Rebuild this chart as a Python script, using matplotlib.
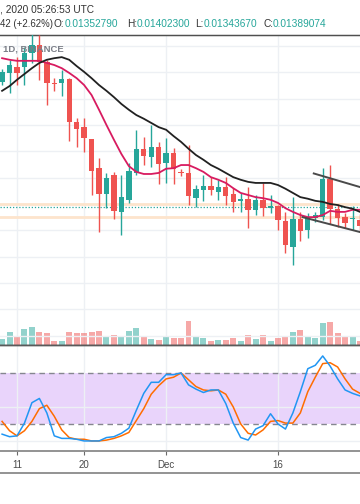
import numpy as np
import pandas as pd
import matplotlib
matplotlib.use("Agg")
import matplotlib.pyplot as plt
from matplotlib.lines import Line2D

plt.rcParams['font.family'] = ['Liberation Sans', 'DejaVu Sans']

# Daily candles Nov 9 - Dec 27 2020, prices in 1e-5 BTC
dates = pd.date_range("2020-11-09", periods=49, freq="D")
opens = [1627, 1644, 1655, 1655, 1682, 1697, 1665, 1625, 1625, 1633,
         1551, 1541, 1519, 1463, 1414, 1450, 1380, 1403, 1454, 1500,
         1484, 1503, 1473, 1492, 1456, 1454, 1406, 1422, 1429, 1418,
         1427, 1414, 1401, 1405, 1384, 1403, 1387, 1391, 1363, 1313,
         1367, 1346, 1368, 1370, 1443, 1386, 1370, 1367, 1365]
highs = [1652, 1669, 1674, 1693, 1718, 1716, 1669, 1634, 1650, 1634,
         1558, 1558, 1519, 1482, 1454, 1456, 1450, 1473, 1536, 1522,
         1545, 1513, 1520, 1501, 1462, 1507, 1431, 1450, 1446, 1441,
         1446, 1425, 1416, 1427, 1412, 1435, 1412, 1393, 1380, 1408,
         1380, 1378, 1380, 1463, 1469, 1395, 1378, 1391, 1376]
lows = [1621, 1606, 1621, 1621, 1663, 1631, 1583, 1610, 1600, 1515,
        1503, 1494, 1412, 1342, 1387, 1367, 1336, 1397, 1450, 1469,
        1465, 1433, 1435, 1433, 1448, 1393, 1389, 1401, 1412, 1403,
        1393, 1380, 1380, 1349, 1374, 1372, 1378, 1346, 1302, 1279,
        1325, 1330, 1361, 1365, 1357, 1351, 1349, 1346, 1342]
closes = [1646, 1659, 1644, 1682, 1697, 1665, 1625, 1623, 1633, 1551,
          1538, 1520, 1458, 1414, 1444, 1382, 1408, 1458, 1500, 1486,
          1503, 1471, 1492, 1462, 1453, 1410, 1424, 1429, 1422, 1427,
          1410, 1399, 1405, 1384, 1403, 1387, 1391, 1365, 1317, 1367,
          1344, 1370, 1374, 1443, 1386, 1368, 1359, 1368, 1353]
volume = [6, 13, 8, 16, 18, 13, 12, 4, 4, 13, 12, 12, 13, 14, 8, 10, 9,
          14, 17, 8, 6, 5, 8, 7, 7, 24, 9, 7, 4, 5, 5, 7, 4, 10, 6, 10,
          4, 7, 8, 13, 15, 9, 7, 22, 23, 12, 8, 8, 4]

# Moving averages
ma_fast = [1672, 1669, 1667, 1667, 1667, 1667, 1663, 1659, 1653, 1644,
           1634, 1621, 1602, 1574, 1545, 1517, 1490, 1467, 1456, 1452,
           1452, 1454, 1462, 1463, 1469, 1469, 1463, 1456, 1446, 1441,
           1435, 1425, 1416, 1412, 1408, 1406, 1403, 1397, 1387, 1380,
           1374, 1370, 1370, 1374, 1382, 1380, 1380, 1384, 1384]
ma_slow = [1610, 1619, 1631, 1642, 1653, 1663, 1669, 1672, 1674, 1669,
           1657, 1646, 1634, 1621, 1610, 1598, 1585, 1574, 1564, 1557,
           1549, 1541, 1536, 1524, 1513, 1500, 1488, 1479, 1469, 1462,
           1454, 1446, 1441, 1437, 1435, 1435, 1435, 1431, 1424, 1416,
           1408, 1405, 1401, 1399, 1395, 1393, 1389, 1386, 1380]

# Stochastic RSI %K and %D
stoch_k = [8, 5, 6, 21, 45, 50, 33, 6, 3, 3, 2, 0, 0, 0, 4, 5, 9, 15, 36, 56,
           69, 69, 78, 78, 80, 66, 61, 57, 60, 60, 44, 21, 4, 1, 14, 18, 32,
           20, 14, 33, 58, 85, 89, 100, 88, 73, 60, 56, 53]
stoch_d = [23, 12, 6, 12, 23, 38, 42, 29, 13, 4, 2, 2, 0, 0, 1, 3, 6, 10, 24,
           38, 55, 65, 73, 75, 80, 72, 64, 60, 59, 60, 55, 40, 20, 9, 7, 13,
           23, 24, 21, 21, 33, 58, 75, 91, 92, 87, 73, 61, 56]

# Drawn lines: channel and horizontal levels
upper_x = [41.8, 49]
upper_y = [1453, 1423]
lower_x = [40.3, 49]
lower_y = [1370, 1338]
levels = [1395, 1370]
last_price = 1389.074

tick_idx = [2, 11, 22, 37]
tick_lbl = ['11', '20', 'Dec', '16']

UP = '#26a69a'
DN = '#ef5350'
GRID = '#edf0f4'

o = np.array(opens) * 1e-5
h = np.array(highs) * 1e-5
l = np.array(lows) * 1e-5
c = np.array(closes) * 1e-5
x = np.arange(len(o))
up = c >= o
col = np.where(up, UP, DN)

fig = plt.figure(figsize=(3.6, 5.04), dpi=100)
fig.patch.set_facecolor('white')
ax_v = fig.add_axes([0, 0.3155, 1, 0.6151])
ax = ax_v.twinx()
st = fig.add_axes([0, 0.1052, 1, 0.2103])

# Volume behind price
ax_v.bar(x, volume, width=0.8, color=col, alpha=0.5, zorder=2)
ax_v.set_ylim(0, 310)
ax_v.set_xlim(-0.28, 48.0)
for t in tick_idx:
    ax_v.axvline(t, color=GRID, lw=1, zorder=0)
ax.set_zorder(ax_v.get_zorder() + 1)
ax.patch.set_visible(False)

# Grid of the price pane
for p in np.arange(1145, 1700, 50):
    ax.axhline(p * 1e-5, color=GRID, lw=1, zorder=0)

# Levels
for lv in levels:
    ax.axhline(lv * 1e-5, color='#fde4cc', lw=2, zorder=1)
ax.axhline(last_price * 1e-5, color=UP, lw=0.9, ls=(0, (1, 1.5)), zorder=1)

# Candles
ax.vlines(x, l, h, colors=col, lw=1, zorder=3)
body = np.maximum(np.abs(c - o), 1.5e-5)
ax.bar(x, body, bottom=np.minimum(o, c), width=0.72, color=col, zorder=4)

# Moving averages
ax.plot(x, np.array(ma_fast) * 1e-5, color='#d81b60', lw=1.3, zorder=5)
ax.plot(x, np.array(ma_slow) * 1e-5, color='#212121', lw=1.3, zorder=5)

# Channel
ax.plot(upper_x, np.array(upper_y) * 1e-5, color='#4a4a4a', lw=1.4, zorder=6)
ax.plot(lower_x, np.array(lower_y) * 1e-5, color='#4a4a4a', lw=1.4, zorder=6)

ax.set_xlim(-0.28, 48.0)
ax.set_ylim(1127.1e-5, 1716.1e-5)

for a in (ax, ax_v):
    a.set_xticks([])
    a.set_yticks([])
    for s in ('left', 'right'):
        a.spines[s].set_visible(False)
    a.spines['top'].set_color('#4f4f4f')
    a.spines['top'].set_linewidth(0.9)
    a.spines['bottom'].set_color('#5a5a5a')
    a.spines['bottom'].set_linewidth(1.0)

# Stochastic RSI pane
st.axhspan(20, 80, color='#e9d4fb', lw=0, zorder=0)
for g in (0, 40):
    st.axhline(g, color=GRID, lw=1, zorder=1)
for t in tick_idx:
    st.axvline(t, color=GRID, lw=1, zorder=1)
for b in (20, 80):
    st.axhline(b, color='#85878f', lw=1, ls=(0, (4, 3)), zorder=2)
st.plot(x, stoch_d, color='#ff6d00', lw=1.1, zorder=3)
st.plot(x, stoch_k, color='#2196f3', lw=1.1, zorder=4)
st.set_xlim(-0.28, 48.0)
st.set_ylim(-11.8, 112.9)
st.set_yticks([])
st.set_xticks(tick_idx)
st.set_xticklabels(tick_lbl, fontsize=7, color='#4a4a4a')
st.tick_params(axis='x', length=3, width=0.8, color='#6a6a6a', pad=3.5)
for s in ('left', 'right'):
    st.spines[s].set_visible(False)
st.spines['top'].set_color('#5a5a5a')
st.spines['top'].set_linewidth(1.0)
st.spines['bottom'].set_color('#8a8a8a')
st.spines['bottom'].set_linewidth(1.3)

# Bottom line of the time axis
fig.add_artist(Line2D([0, 1], [1 - 473 / 504] * 2, transform=fig.transFigure,
                      color='#8a8a8a', lw=1.3))

# Header texts
fig.text(0, 1 - 10 / 504, ', 2020 05:26:53 UTC', fontsize=7.3,
         color='#333333', va='center')
yh = 1 - 24 / 504
fig.text(0, yh, '42 (+2.62%)', fontsize=6.9,
         color='#333333', va='center')
parts = [(54, 'O:', '#333333'),
         (65, '0.01352790', UP), (127, 'H:', '#333333'),
         (137, '0.01402300', UP), (195, 'L:', '#333333'),
         (204, '0.01343670', UP), (263, 'C:', '#333333'),
         (273, '0.01389074', UP)]
for px, s, cl in parts:
    fig.text(px / 360, yh, s, fontsize=7.3, color=cl, va='center')
fig.text(3 / 360, 1 - 49 / 504, '1D, BINANCE', fontsize=6.8,
         color='#7b7e87', fontweight='bold', va='center', zorder=10)

fig.savefig('out.png', dpi=100)
